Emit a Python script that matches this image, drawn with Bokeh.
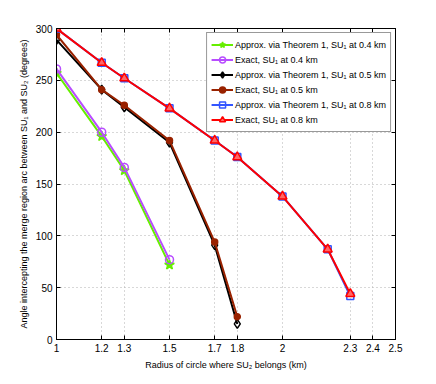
from bokeh.plotting import figure
from bokeh.models import FixedTicker, LinearAxis, Range1d, Legend, CustomJSTickFormatter
from bokeh.embed import file_html
from bokeh.resources import INLINE

x_ticks = [1, 1.2, 1.3, 1.5, 1.7, 1.8, 2, 2.3, 2.4, 2.5]
y_ticks = [0, 50, 100, 150, 200, 250, 300]

x_04 = [1, 1.2, 1.3, 1.5]
approx_04 = [257, 196, 163, 72]
exact_04 = [261, 200, 166, 77]

x_05 = [1, 1.2, 1.3, 1.5, 1.7, 1.8]
approx_05 = [289, 241, 224, 190, 91, 15]
exact_05 = [294, 241, 226, 192, 94, 22]

x_08 = [1, 1.2, 1.3, 1.5, 1.7, 1.8, 2, 2.2, 2.3]
approx_08 = [300, 267, 252, 223, 192, 176, 138, 87, 42]
exact_08 = [300, 267, 252, 223, 192, 176, 138, 87, 44]

FONT = "Liberation Sans"

p = figure(width=420, height=372, output_backend="svg", toolbar_location=None,
           x_range=Range1d(1, 2.5), y_range=Range1d(0, 300),
           min_border_left=56, min_border_right=25, min_border_top=28, min_border_bottom=32)
p.outline_line_color = "black"
p.outline_line_width = 1

for ax in [p.xaxis[0], p.yaxis[0]]:
    ax.major_tick_in = 4
    ax.major_tick_out = 0
    ax.minor_tick_in = 0
    ax.minor_tick_out = 0
    ax.major_label_text_font = FONT
    ax.major_label_text_font_size = "10px"
    ax.major_label_text_color = "black"
    ax.axis_label_text_font = FONT
    ax.axis_label_text_font_size = "9px"
    ax.axis_label_text_font_style = "normal"
    ax.axis_label_text_color = "black"
    ax.axis_line_color = "black"

p.xaxis[0].ticker = FixedTicker(ticks=x_ticks)
p.yaxis[0].ticker = FixedTicker(ticks=y_ticks)
p.xaxis[0].axis_label = "Radius of circle where SU₂ belongs (km)"
p.yaxis[0].axis_label = "Angle intercepting the merge region arc between SU₁ and SU₂ (degrees)"
p.xaxis[0].major_label_standoff = 4
p.xaxis[0].axis_label_standoff = 5
p.yaxis[0].major_label_standoff = 4
p.yaxis[0].axis_label_standoff = 4

blank = CustomJSTickFormatter(code="return ''")
for loc, tk in [("right", y_ticks), ("above", x_ticks)]:
    a = LinearAxis(ticker=FixedTicker(ticks=tk), major_tick_in=4, major_tick_out=0,
                   minor_tick_in=0, minor_tick_out=0, formatter=blank,
                   major_label_standoff=0, axis_line_color="black")
    p.add_layout(a, loc)

p.xgrid.ticker = FixedTicker(ticks=x_ticks)
p.ygrid.ticker = FixedTicker(ticks=y_ticks)
for g in [p.xgrid[0], p.ygrid[0]]:
    g.grid_line_color = "#b0b0b0"
    g.grid_line_dash = "1 3"
    g.grid_line_width = 1

series = [
    ("Approx. via Theorem 1, SU₁ at 0.4 km", x_04, approx_04, "#66ee00", "star", 10, "#66ee00"),
    ("Exact, SU₁ at 0.4 km", x_04, exact_04, "#b84dff", "circle", 8, None),
    ("Approx. via Theorem 1, SU₁ at 0.5 km", x_05, approx_05, "black", "diamond", 9, None),
    ("Exact, SU₁ at 0.5 km", x_05, exact_05, "#992200", "circle", 6, "#992200"),
    ("Approx. via Theorem 1, SU₁ at 0.8 km", x_08, approx_08, "#3355ff", "square", 7, None),
    ("Exact, SU₁ at 0.8 km", x_08, exact_08, "#ff0000", "triangle", 9, "#ff6666"),
]

items = []
for label, xs, ys, col, mk, sz, fill in series:
    l = p.line(xs, ys, line_color=col, line_width=2)
    s = p.scatter(xs, ys, marker=mk, size=sz, line_color=col, line_width=1.5,
                  fill_color=fill if fill else None)
    items.append((label, [l, s]))

legend = Legend(items=items, location="top_right", label_text_font=FONT,
                label_text_font_size="9px", label_text_color="black",
                border_line_color="#333333",
                background_fill_color="white", background_fill_alpha=1,
                spacing=0, padding=4, margin=4, glyph_width=22, glyph_height=15,
                label_height=15, label_standoff=2)
p.add_layout(legend)

open("out.html", "w").write(file_html(p, INLINE))
